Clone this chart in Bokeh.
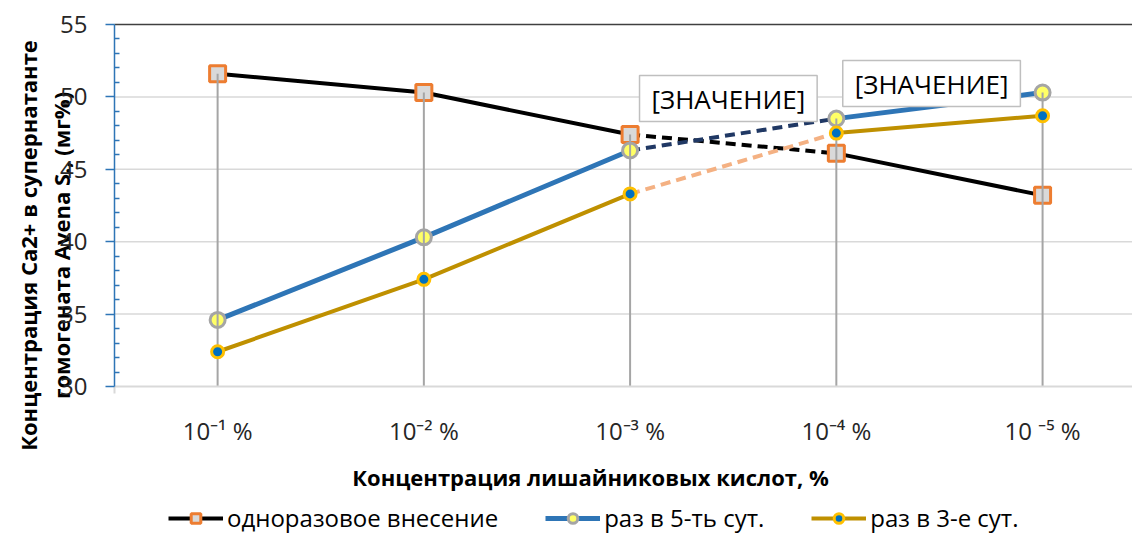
import math
from bokeh.plotting import figure
from bokeh.models import (Range1d, FixedTicker, Label, Legend, LegendItem)
from bokeh.embed import file_html
from bokeh.resources import INLINE

# ---------------- data ----------------
categories = ["10⁻¹ %", "10⁻² %", "10⁻³ %", "10⁻⁴ %", "10 ⁻⁵ %"]
once = [51.6, 50.3, 47.4, 46.1, 43.2]
every5 = [34.6, 40.3, 46.3, 48.5, 50.3]
every3 = [32.4, 37.4, 43.3, 47.5, 48.7]
series_names = ["одноразовое внесение", "раз в 5-ть сут.", "раз в 3-е сут."]
y_min, y_max, y_step = 30, 55, 5
x_title = "Концентрация лишайниковых кислот, %"
y_title = ["Концентрация Ca2+ в супернатанте", "гомогената Avena S., (мг%)"]
value_label_text = "[ЗНАЧЕНИЕ]"
dashed_from, dashed_to = 2, 3          # segment drawn dashed (category indices)
value_label_points = [3, 4]            # points of series "every5" with value labels

FONT = "Open Sans"
W, H = 1132, 534
x = list(range(1, len(categories) + 1))

# view ranges: the frame covers the whole canvas, the plot area is bounded by the axes
x_start, x_end = 0.5, 5.436
view_x = (x_start - 114 / 206.25, x_end)
view_y = (y_min - 148 / 14.48, y_max + 24 / 14.48)

p = figure(width=W, height=H,
           x_range=Range1d(*view_x), y_range=Range1d(*view_y),
           output_backend="svg", toolbar_location=None,
           min_border_left=0, min_border_right=0,
           min_border_top=0, min_border_bottom=0)
p.outline_line_color = None
p.background_fill_color = "white"
p.xgrid.visible = False
p.ygrid.visible = False

# horizontal grid lines and top border of the plot area
grid_y = list(range(y_min + y_step, y_max, y_step))
p.segment(x0=[x_start] * len(grid_y), y0=grid_y, x1=[x_end] * len(grid_y), y1=grid_y,
          line_color="#D9D9D9", line_width=1.5)
p.segment(x0=[x_start], y0=[y_max], x1=[x_end], y1=[y_max],
          line_color="#404040", line_width=1.5)

# x axis
xa = p.xaxis[0]
xa.fixed_location = y_min
xa.bounds = (x_start, x_end)
xa.ticker = FixedTicker(ticks=x, minor_ticks=[x_start])
xa.major_label_overrides = {xi: c for xi, c in zip(x, categories)}
xa.axis_line_color = "#D9D9D9"
xa.axis_line_width = 2
xa.major_tick_line_color = None
xa.minor_tick_line_color = "#D9D9D9"
xa.minor_tick_line_width = 2
xa.minor_tick_in = 0
xa.minor_tick_out = 7
xa.major_label_text_font = FONT
xa.major_label_text_font_size = "24px"
xa.major_label_text_color = "#262626"
xa.major_label_standoff = 20

# y axis
ya = p.yaxis[0]
ya.fixed_location = x_start
ya.bounds = (y_min, y_max)
ya.ticker = FixedTicker(ticks=list(range(y_min, y_max + 1, y_step)),
                        minor_ticks=[v for v in range(y_min, y_max + 1) if v % y_step])
ya.axis_line_color = "#2E75B6"
ya.axis_line_width = 1.5
ya.major_tick_line_color = "#2E75B6"
ya.major_tick_line_width = 1.5
ya.major_tick_out = 9
ya.major_tick_in = 0
ya.minor_tick_line_color = "#2E75B6"
ya.minor_tick_line_width = 1.5
ya.minor_tick_in = 5
ya.minor_tick_out = 0
ya.major_label_text_font = FONT
ya.major_label_text_font_size = "24px"
ya.major_label_text_color = "#262626"
ya.major_label_standoff = 18

styles = [
    dict(data=once, color="#000000", width=4, dash_color="#000000", marker="square",
         size=16, fill="#D9D9D9", mline="#ED7D31", mwidth=3),
    dict(data=every5, color="#2E75B6", width=5, dash_color="#203864", marker="circle",
         size=15, fill="#FFFF66", mline="#A5A5A5", mwidth=3),
    dict(data=every3, color="#BF9000", width=4, dash_color="#F4B183", marker="circle",
         size=12, fill="#0070C0", mline="#FFC000", mwidth=3),
]

line_renderers = []
for s in styles:
    d = s["data"]
    r1 = p.line(x[:dashed_from + 1], d[:dashed_from + 1], line_color=s["color"],
                line_width=s["width"], line_join="round")
    p.line(x[dashed_to:], d[dashed_to:], line_color=s["color"],
           line_width=s["width"], line_join="round")
    p.line(x[dashed_from:dashed_to + 1], d[dashed_from:dashed_to + 1],
           line_color=s["dash_color"], line_width=4, line_dash="10 6")
    line_renderers.append(r1)

marker_renderers = []
for i, s in enumerate(styles):
    if i == 2:
        tops = [max(v) for v in zip(once, every5, every3)]
        p.segment(x0=x, y0=[y_min] * len(x), x1=x, y1=tops,
                  line_color="#A5A5A5", line_width=2)
    m = p.scatter(x, s["data"], marker=s["marker"], size=s["size"],
                  fill_color=s["fill"], line_color=s["mline"], line_width=s["mwidth"])
    marker_renderers.append(m)

legend_items = [LegendItem(label=name, renderers=[lr, mr])
                for name, lr, mr in zip(series_names, line_renderers, marker_renderers)]
legend = Legend(items=legend_items, orientation="horizontal", location=(168, 0),
                label_text_font=FONT, label_text_font_size="24px",
                label_text_color="#000000",
                glyph_width=55, glyph_height=24, label_standoff=4, spacing=47,
                padding=0, margin=0, border_line_color=None,
                background_fill_alpha=0)
p.add_layout(legend)

# value labels
offsets = [(-108, 20), (-111, 9)]
for idx, (dx, dy) in zip(value_label_points, offsets):
    p.add_layout(Label(x=x[idx], y=every5[idx], x_offset=dx, y_offset=dy,
                       text=value_label_text, text_font=FONT, text_font_size="26px",
                       text_color="#000000", text_align="center", text_baseline="middle",
                       border_line_color="#BFBFBF", border_line_width=1.5,
                       background_fill_color="white", padding=(12, 5)))

# axis titles (screen units from the canvas' bottom-left corner)
p.add_layout(Label(x=590, y=H - 476, x_units="screen", y_units="screen", text=x_title,
                   text_font=FONT, text_font_style="bold", text_font_size="22px",
                   text_align="center", text_baseline="middle", text_color="#000000"))
for tx, line in zip([27, 60], y_title):
    p.add_layout(Label(x=tx, y=H - 245, x_units="screen", y_units="screen", text=line,
                       angle=math.pi / 2, text_font=FONT, text_font_style="bold",
                       text_font_size="22px", text_align="center",
                       text_baseline="middle", text_color="#000000",
                       level="underlay"))

open("out.html", "w").write(file_html(p, INLINE))
